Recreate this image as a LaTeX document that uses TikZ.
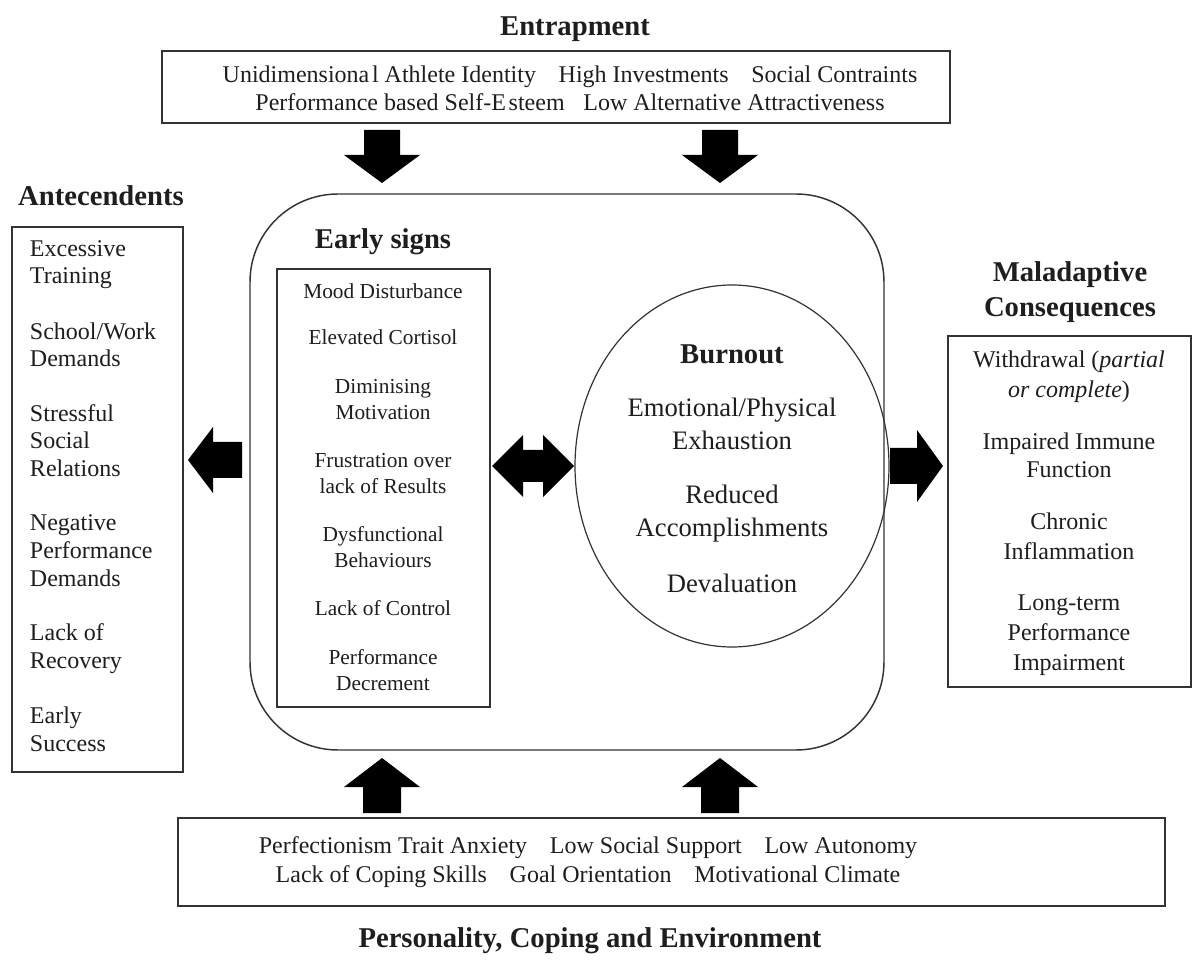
\documentclass[tikz,border=0pt]{standalone}
\usepackage{fontspec}
\setmainfont{Liberation Serif}
\usetikzlibrary{fit,shapes.geometric}
\definecolor{txt}{HTML}{1E1E1E}
\definecolor{ln}{HTML}{333333}
\begin{document}
\begin{tikzpicture}[x=0.75pt,y=-0.75pt,
  every node/.style={inner sep=0pt,outer sep=0pt,text=txt},
  ttl/.style={font=\fontsize{21.5}{24}\selectfont\bfseries,anchor=base},
  itm/.style={font=\fontsize{18}{21}\selectfont,anchor=base},
  itl/.style={font=\fontsize{18}{21}\selectfont,anchor=base west},
  sml/.style={font=\fontsize{16}{19}\selectfont,anchor=base},
  big/.style={font=\fontsize{20}{24}\selectfont,anchor=base},
  box/.style={draw=ln,line width=1.3pt,fit={#1}},
  blk/.style={fill=black}]
\useasboundingbox (0,0) rectangle (1197,980);
\fill[white] (0,0) rectangle (1197,980);

% ---------- boxes ----------
\node[box={(162,51)(950,123)}] (ent) {};
\node[box={(12,227)(183,772)}] (ante) {};
\node[box={(178,818)(1165,906)}] (pers) {};
\node[box={(948,336)(1191,687)}] (mal) {};
\node[draw=ln,line width=1.1pt,rounded corners=66pt,fit={(250,194)(884,750)}] (core) {};
\node[draw=ln,line width=1.3pt,fit={(277,269)(490,707)}] (early) {};
\node[draw=ln,line width=0.9pt,ellipse,minimum width=235.5pt,minimum height=271.5pt] (burn) at (732,466) {};

% ---------- titles ----------
\node[ttl] (tent) at (575,36) {Entrapment};
\node[ttl] (tante) at (101,206) {Antecendents};
\node[ttl] (tearly) at (383,249) {Early signs};
\node[ttl] (tmal1) at (1070,282) {Maladaptive};
\node[ttl] (tmal2) at (1070,317) {Consequences};
\node[ttl] (tpers) at (590,947) {Personality, Coping and Environment};
\node[ttl] (tburn) at (732,364) {Burnout};

% ---------- entrapment ----------
\node[itm] (e1) at (570,83) {Unidimensiona\kern2pt l Athlete Identity\hspace{17pt}High Investments\hspace{17pt}Social Contraints};
\node[itm] (e2) at (570,111) {Performance based Self-E\kern2pt steem\hspace{14pt}Low Alternative Attractiveness};

% ---------- personality ----------
\node[itm] (p1) at (588,853) {Perfectionism Trait Anxiety\hspace{17pt}Low Social Support\hspace{17pt}Low Autonomy};
\node[itm] (p2) at (588,882) {Lack of Coping Skills\hspace{17pt}Goal Orientation\hspace{17pt}Motivational Climate};

% ---------- antecendents ----------
\node[itl] (a1) at (30,257) {Excessive};
\node[itl] (a2) at (30,284) {Training};
\node[itl] (a3) at (30,340) {School/Work};
\node[itl] (a4) at (30,367) {Demands};
\node[itl] (a5) at (30,422) {Stressful};
\node[itl] (a6) at (30,449) {Social};
\node[itl] (a7) at (30,477) {Relations};
\node[itl] (a8) at (30,531) {Negative};
\node[itl] (a9) at (30,559) {Performance};
\node[itl] (a10) at (30,586) {Demands};
\node[itl] (a11) at (30,641) {Lack of};
\node[itl] (a12) at (30,668) {Recovery};
\node[itl] (a13) at (30,723) {Early};
\node[itl] (a14) at (30,751) {Success};

% ---------- early signs ----------
\node[sml] (s1) at (383,299) {Mood Disturbance};
\node[sml] (s2) at (383,345) {Elevated Cortisol};
\node[sml] (s3) at (383,394) {Diminising};
\node[sml] (s4) at (383,420) {Motivation};
\node[sml] (s5) at (383,468) {Frustration over};
\node[sml] (s6) at (383,494) {lack of Results};
\node[sml] (s7) at (383,542) {Dysfunctional};
\node[sml] (s8) at (383,568) {Behaviours};
\node[sml] (s9) at (383,615) {Lack of Control};
\node[sml] (s10) at (383,664) {Performance};
\node[sml] (s11) at (383,690) {Decrement};

% ---------- burnout ----------
\node[big] (b1) at (732,417) {Emotional/Physical};
\node[big] (b2) at (732,450) {Exhaustion};
\node[big] (b3) at (732,504) {Reduced};
\node[big] (b4) at (732,537) {Accomplishments};
\node[big] (b5) at (732,593) {Devaluation};

% ---------- maladaptive ----------
\node[itm] (m1) at (1069,368) {Withdrawal (\textit{partial}};
\node[itm] (m2) at (1069,398) {\textit{or complete})};
\node[itm] (m3) at (1069,450) {Impaired Immune};
\node[itm] (m4) at (1069,478) {Function};
\node[itm] (m5) at (1069,530) {Chronic};
\node[itm] (m6) at (1069,560) {Inflammation};
\node[itm] (m7) at (1069,610) {Long-term};
\node[itm] (m8) at (1069,640) {Performance};
\node[itm] (m9) at (1069,670) {Impairment};

% ---------- block arrows ----------
\coordinate (dl) at (382,130);
\coordinate (dr) at (720,130);
\coordinate (ul) at (382,813);
\coordinate (ur) at (720,813);
\coordinate (la) at (242,460);
\coordinate (ra) at (890,466);
\coordinate (da) at (492,466);
\foreach \c in {dl,dr}{
  \fill[blk,shift={(\c)}] (-18,0) -- (18,0) -- (18,25) -- (38,25) -- (0,53) -- (-38,25) -- (-18,25) -- cycle;}
\foreach \c in {ul,ur}{
  \fill[blk,shift={(\c)}] (-19,0) -- (19,0) -- (19,-26) -- (38,-26) -- (0,-55) -- (-38,-26) -- (-19,-26) -- cycle;}
\fill[blk,shift={(la)}] (0,-18) -- (0,18) -- (-29,18) -- (-29,33) -- (-54,0) -- (-29,-33) -- (-29,-18) -- cycle;
\fill[blk,shift={(ra)}] (0,-18) -- (27,-18) -- (27,-36) -- (53,0) -- (27,36) -- (27,18) -- (0,18) -- cycle;
\fill[blk,shift={(da)}] (0,0) -- (31,-31) -- (31,-16) -- (51,-16) -- (51,-31) -- (82,0) -- (51,31) -- (51,16) -- (31,16) -- (31,31) -- cycle;
\end{tikzpicture}
\end{document}
